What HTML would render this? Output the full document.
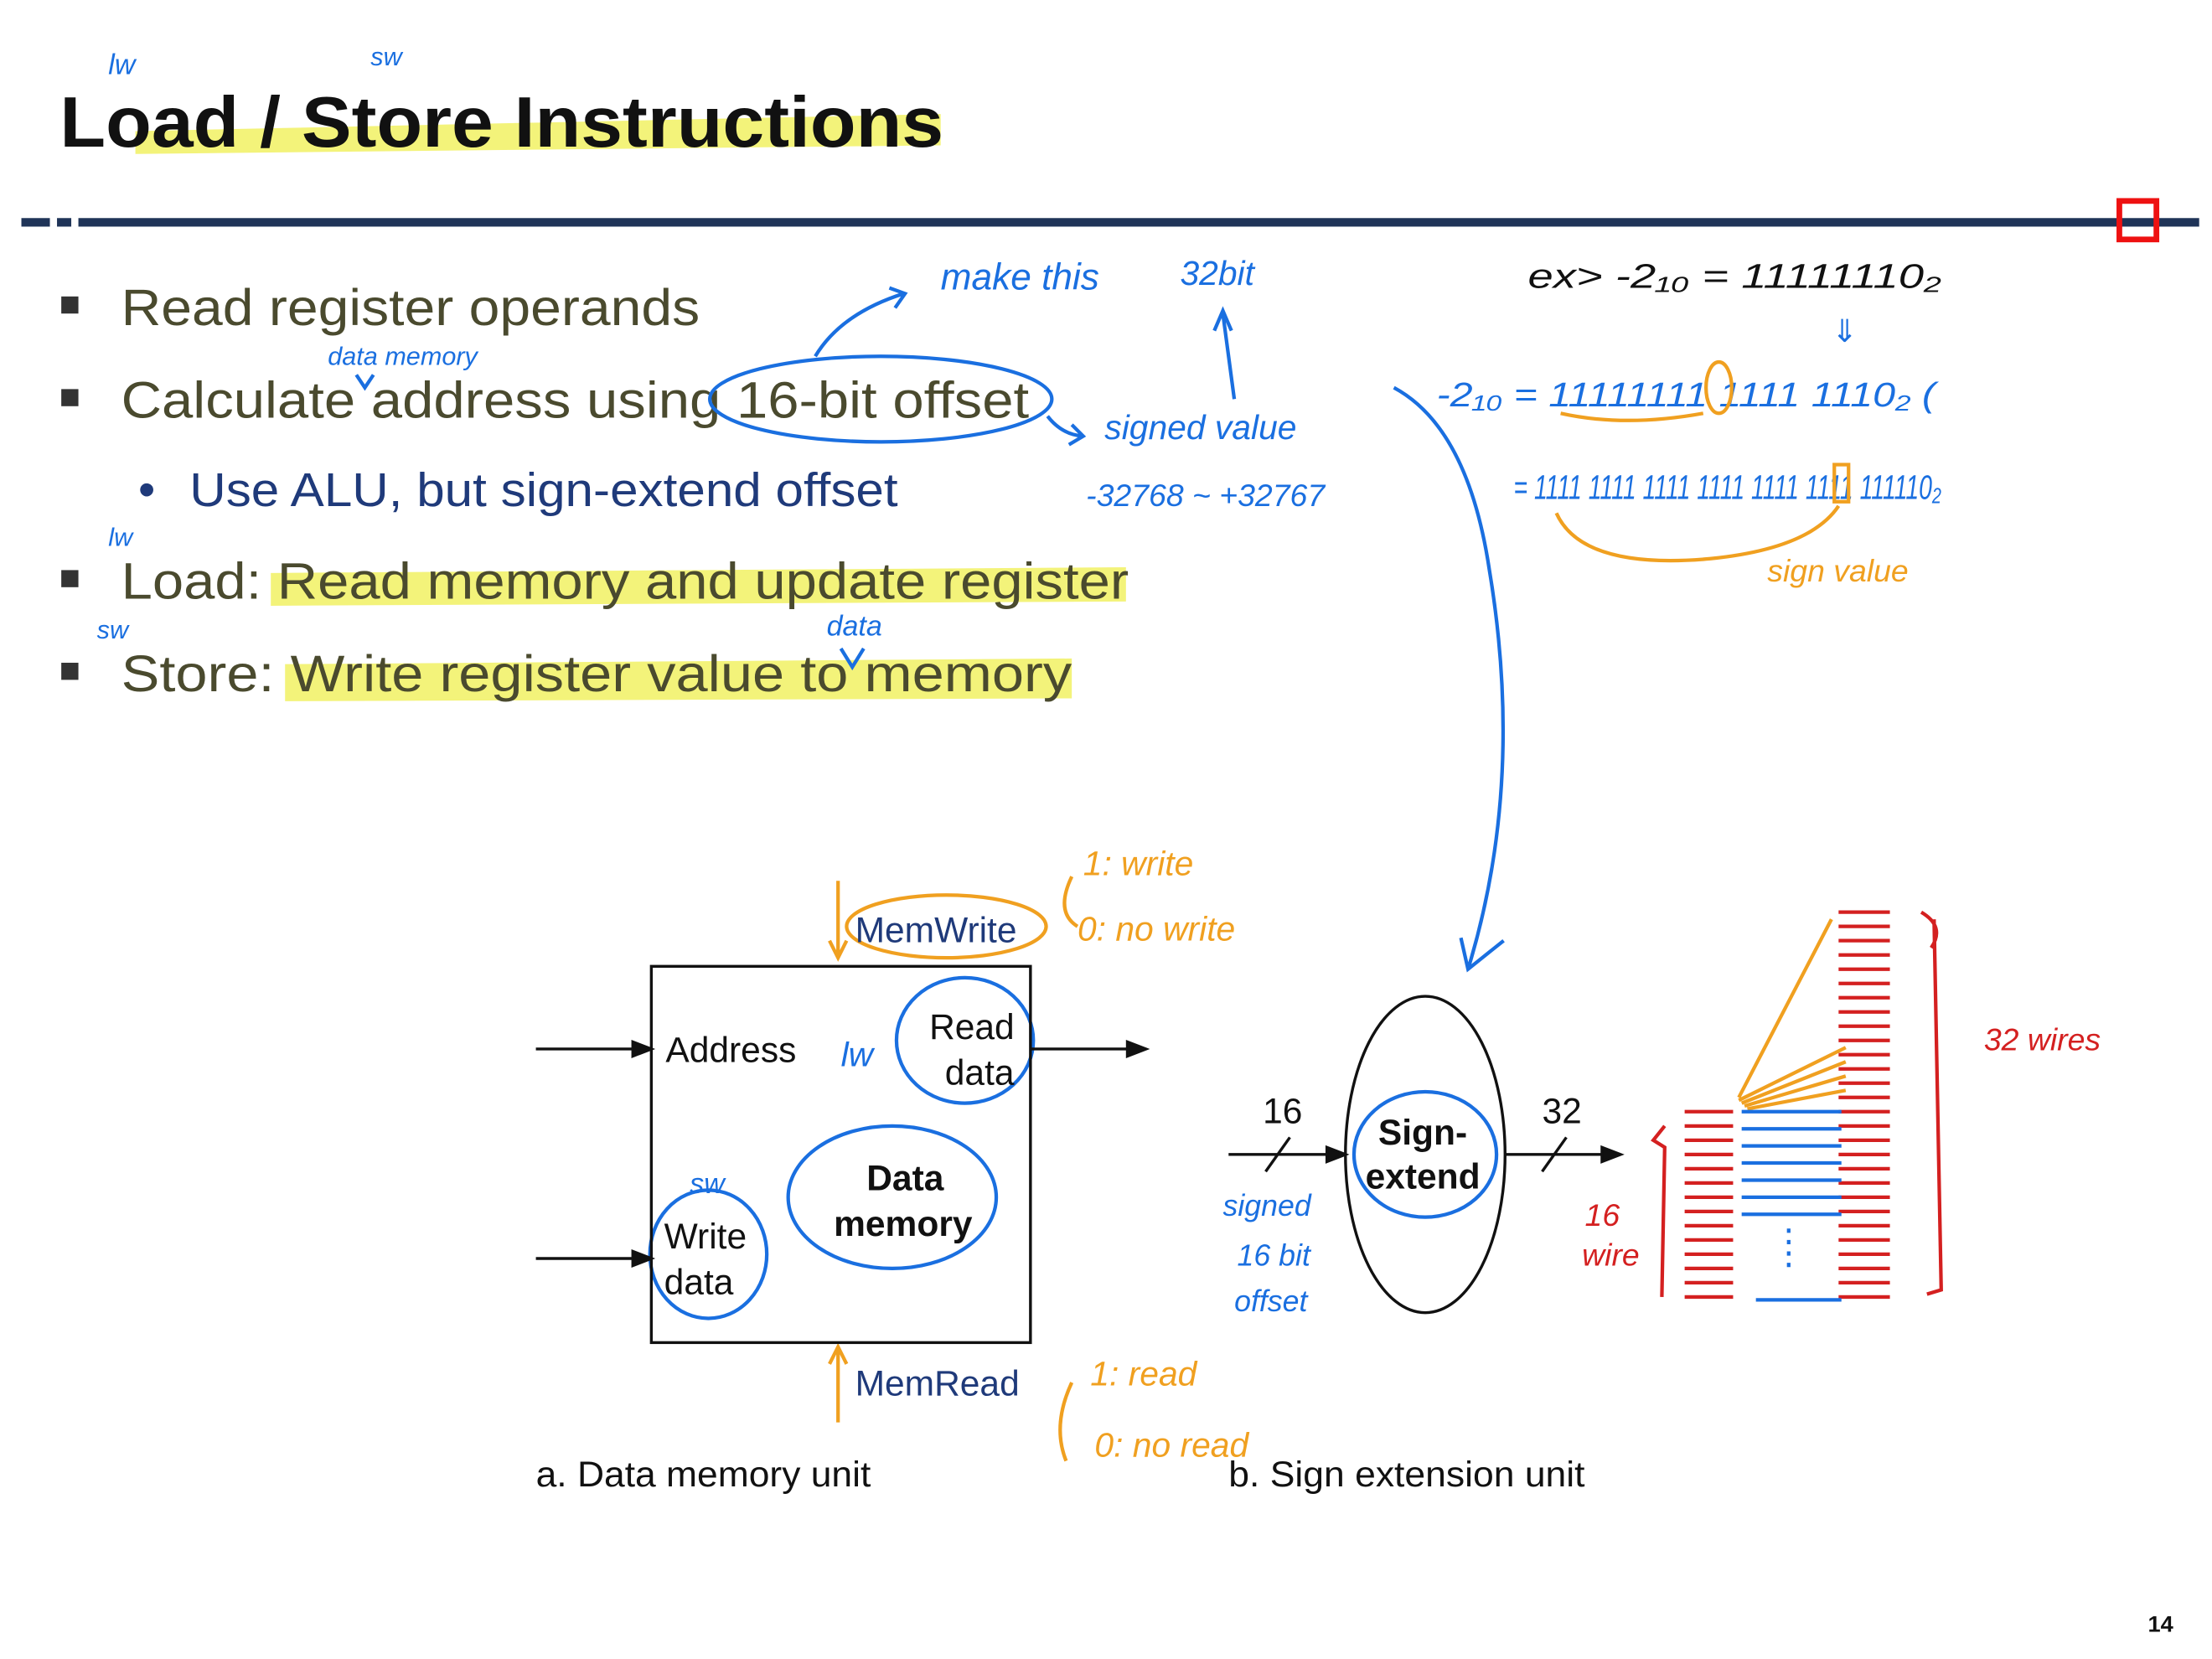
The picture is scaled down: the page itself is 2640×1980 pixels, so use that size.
<!DOCTYPE html>
<html><head><meta charset="utf-8"><style>
html,body{margin:0;padding:0;background:#fff}
svg{display:block}
.t{font-family:"Liberation Sans",sans-serif}
.h{font-family:"Liberation Sans",sans-serif;font-style:italic}
</style></head><body>
<svg width="2640" height="1980" viewBox="0 0 1552 1164" xmlns="http://www.w3.org/2000/svg">
<rect width="1552" height="1164" fill="#fff"/>
<!-- title -->
<path d="M95 92 L660 80 L660 102 L95 108 Z" fill="#f3f37a"/>
<text x="42" y="103" class="t" font-size="50" font-weight="bold" fill="#111" textLength="620" lengthAdjust="spacingAndGlyphs">Load / Store Instructions</text>
<text x="76" y="52" class="h" font-size="20" fill="#1a6fe0">lw</text>
<text x="260" y="46" class="h" font-size="18" fill="#1a6fe0">sw</text>
<!-- header line -->
<rect x="15" y="153" width="20" height="6" fill="#1f3458"/>
<rect x="40" y="153" width="10" height="6" fill="#1f3458"/>
<rect x="55" y="153" width="1488" height="6" fill="#1f3458"/>
<rect x="1487" y="141" width="26" height="27" fill="none" stroke="#e11" stroke-width="4"/>
<!-- highlights -->
<path d="M190 402 L790 398 L790 422 L190 425 Z" fill="#f3f37a"/>
<path d="M200 466 L752 462 L752 490 L200 492 Z" fill="#f3f37a"/>
<!-- bullets -->
<g fill="#333">
<rect x="43" y="208" width="12" height="12"/><rect x="43" y="273" width="12" height="12"/>
<rect x="43" y="400" width="12" height="12"/><rect x="43" y="465" width="12" height="12"/>
</g>
<g class="t" font-size="36" fill="#4a4a2e" lengthAdjust="spacingAndGlyphs">
<text x="85" y="228" textLength="406" lengthAdjust="spacingAndGlyphs">Read register operands</text>
<text x="85" y="293" textLength="637" lengthAdjust="spacingAndGlyphs">Calculate address using 16-bit offset</text>
<text x="85" y="420" textLength="707" lengthAdjust="spacingAndGlyphs">Load: Read memory and update register</text>
<text x="85" y="485" textLength="667" lengthAdjust="spacingAndGlyphs">Store: Write register value to memory</text>
</g>
<text x="97" y="355" class="t" font-size="34" fill="#1f3a7a">•</text>
<text x="133" y="355" class="t" font-size="33" fill="#1f3a7a" textLength="497" lengthAdjust="spacingAndGlyphs">Use ALU, but sign-extend offset</text>
<!-- blue annotations -->
<g fill="none" stroke="#1a6fe0" stroke-width="2.5">
<ellipse cx="618" cy="280" rx="120" ry="30"/>
<path d="M572 250 Q590 220 634 206 M624 202 L635 206 L628 216"/>
<path d="M735 292 Q745 305 760 306 M752 298 L760 306 L750 312"/>
<path d="M866 280 L858 220 M852 232 L858 218 L864 232"/>
<path d="M978 272 Q1030 300 1045 400 Q1070 550 1030 680 M1025 658 L1030 680 L1055 660"/>
<ellipse cx="626" cy="840" rx="73" ry="50"/>
<ellipse cx="677" cy="730" rx="48" ry="44"/>
<ellipse cx="497" cy="880" rx="41" ry="45"/>
<ellipse cx="1000" cy="810" rx="50" ry="44"/>
<path d="M250 263 L256 272 L262 263 M590 455 L598 468 L606 455"/>
</g>
<g class="h" fill="#1a6fe0">
<text x="660" y="203" font-size="26">make this</text>
<text x="828" y="200" font-size="24">32bit</text>
<text x="775" y="308" font-size="24">signed value</text>
<text x="762" y="355" font-size="22">-32768 ~ +32767</text>
<text x="230" y="256" font-size="18">data memory</text>
<text x="580" y="446" font-size="20">data</text>
<text x="76" y="383" font-size="18">lw</text>
<text x="68" y="448" font-size="18">sw</text>
<text x="1008" y="285" font-size="24" textLength="350" lengthAdjust="spacingAndGlyphs">-2₁₀ = 11111111 1111 1110₂ (</text>
<text x="1062" y="350" font-size="24" textLength="300" lengthAdjust="spacingAndGlyphs">= 1111 1111 1111 1111 1111 1111 111110₂</text>
<text x="590" y="748" font-size="24">lw</text>
<text x="484" y="837" font-size="20">sw</text>
<text x="858" y="853" font-size="21">signed</text>
<text x="868" y="888" font-size="21">16 bit</text>
<text x="866" y="920" font-size="21">offset</text>
</g>
<text x="1072" y="202" class="h" font-size="24" fill="#111" textLength="290" lengthAdjust="spacingAndGlyphs">ex&gt; -2₁₀ = 11111110₂</text>
<text x="1285" y="240" class="t" font-size="22" fill="#1a6fe0">⇓</text>
<!-- orange -->
<g fill="none" stroke="#f0a020" stroke-width="2.5">
<ellipse cx="664" cy="650" rx="70" ry="22"/>
<rect x="1287" y="326" width="10" height="26"/>
<ellipse cx="1206" cy="272" rx="9" ry="18"/>
<path d="M1092 360 Q1110 400 1200 392 Q1270 385 1290 355"/>
<path d="M1095 290 Q1140 300 1195 290"/>
<path d="M588 618 L588 672 M582 660 L588 672 L594 660"/>
<path d="M588 998 L588 945 M582 957 L588 945 L594 957"/>
<path d="M752 615 Q740 640 756 650"/>
<path d="M752 970 Q738 1000 748 1025"/>
<path d="M1220 770 L1285 645 M1220 772 L1295 735 M1222 774 L1295 745 M1224 776 L1295 755 M1226 778 L1295 765"/>
</g>
<g class="h" fill="#f0a020" font-size="24">
<text x="760" y="614">1: write</text>
<text x="756" y="660">0: no write</text>
<text x="765" y="972">1: read</text>
<text x="768" y="1022">0: no read</text>
<text x="1240" y="408" font-size="22">sign value</text>
</g>
<!-- data memory unit -->
<rect x="457" y="678" width="266" height="264" fill="none" stroke="#111" stroke-width="2"/>
<g stroke="#111" stroke-width="2" fill="#111">
<line x1="376" y1="736" x2="446" y2="736"/><path d="M457 736 L444 731 L444 741 Z"/>
<line x1="376" y1="883" x2="446" y2="883"/><path d="M457 883 L444 878 L444 888 Z"/>
<line x1="723" y1="736" x2="792" y2="736"/><path d="M804 736 L791 731 L791 741 Z"/>
<line x1="862" y1="810" x2="932" y2="810"/><path d="M944 810 L931 805 L931 815 Z"/>
<line x1="1056" y1="810" x2="1125" y2="810"/><path d="M1137 810 L1124 805 L1124 815 Z"/>
<line x1="888" y1="822" x2="905" y2="798"/><line x1="1082" y1="822" x2="1099" y2="798"/>
</g>
<ellipse cx="1000" cy="810" rx="56" ry="111" fill="none" stroke="#111" stroke-width="2"/>
<g class="t" fill="#111" font-size="25">
<text x="467" y="745">Address</text>
<text x="652" y="729">Read</text><text x="663" y="761">data</text>
<text x="466" y="876">Write</text><text x="466" y="908">data</text>
<text x="608" y="835" font-weight="bold">Data</text><text x="585" y="867" font-weight="bold">memory</text>
<text x="967" y="803" font-weight="bold">Sign-</text><text x="958" y="834" font-weight="bold">extend</text>
<text x="886" y="788">16</text><text x="1082" y="788">32</text>
<text x="376" y="1043" textLength="235" lengthAdjust="spacingAndGlyphs">a. Data memory unit</text>
<text x="862" y="1043" textLength="250" lengthAdjust="spacingAndGlyphs">b. Sign extension unit</text>
</g>
<g class="t" fill="#1f3a7a" font-size="25">
<text x="600" y="661">MemWrite</text><text x="600" y="979">MemRead</text>
</g>
<!-- red wire stacks -->
<g stroke="#d42020" stroke-width="2.5">
<path d="M1290 640h36M1290 650h36M1290 660h36M1290 670h36M1290 680h36M1290 690h36M1290 700h36M1290 710h36M1290 720h36M1290 730h36M1290 740h36M1290 750h36M1290 760h36M1290 770h36M1290 780h36M1290 790h36M1290 800h36M1290 810h36M1290 820h36M1290 830h36M1290 840h36M1290 850h36M1290 860h36M1290 870h36M1290 880h36M1290 890h36M1290 900h36M1290 910h36"/>
<path d="M1182 780h34M1182 790h34M1182 800h34M1182 810h34M1182 820h34M1182 830h34M1182 840h34M1182 850h34M1182 860h34M1182 870h34M1182 880h34M1182 890h34M1182 900h34M1182 910h34"/>
<path fill="none" d="M1348 640 Q1365 650 1355 665 M1357 645 L1362 905 L1352 908 M1168 790 L1160 800 L1168 805 L1166 910"/>
</g>
<g stroke="#1a6fe0" stroke-width="2.5">
<path d="M1222 780h70M1222 792h70M1222 804h70M1222 816h70M1222 828h70M1222 840h70M1222 852h70M1232 912h60"/>
<path d="M1255 862v28" stroke-dasharray="3 5"/>
</g>
<g class="h" fill="#d42020" font-size="22">
<text x="1392" y="737">32 wires</text>
<text x="1112" y="860">16</text><text x="1110" y="888">wire</text>
</g>
<text x="1507" y="1145" class="t" font-size="16" font-weight="bold" fill="#111">14</text>
</svg>
</body></html>
